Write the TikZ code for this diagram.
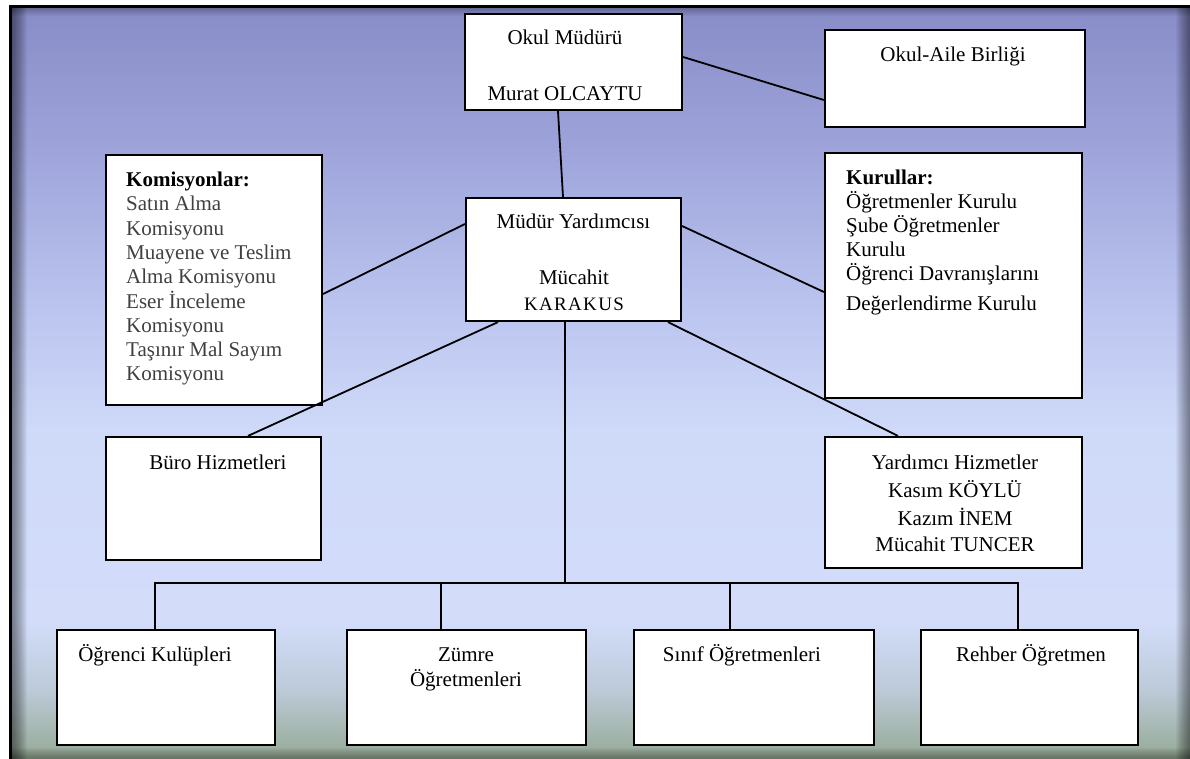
\documentclass[tikz,border=0pt]{standalone}
\usepackage{fontspec}
\setmainfont{Liberation Serif}
\usetikzlibrary{calc}
\definecolor{bgA}{HTML}{878BC6}
\definecolor{bgB}{HTML}{9EA4DA}
\definecolor{bgC}{HTML}{BAC3EE}
\definecolor{bgD}{HTML}{CFDAF9}
\definecolor{bgE}{HTML}{D3DDFA}
\definecolor{bgF}{HTML}{BCCAD8}
\definecolor{bgG}{HTML}{93A892}
\definecolor{komgray}{HTML}{404040}
\begin{document}
\begin{tikzpicture}[x=1pt,y=-1pt,
  box/.style={draw=black, fill=white, line width=2.2pt, inner sep=0},
  conn/.style={line width=1.8pt, draw=black},
  txt/.style={inner sep=0, font=\fontsize{21}{24.2}\selectfont}]
\useasboundingbox (0,0) rectangle (1190,758);
% background gradient
\shade[top color=bgA, bottom color=bgB] (10,0) rectangle (1192,150.5);
\shade[top color=bgB, bottom color=bgC] (10,150) rectangle (1192,300.5);
\shade[top color=bgC, bottom color=bgD] (10,300) rectangle (1192,430.5);
\shade[top color=bgD, bottom color=bgE] (10,430) rectangle (1192,620.5);
\shade[top color=bgE, bottom color=bgF] (10,620) rectangle (1192,690.5);
\shade[top color=bgF, bottom color=bgG] (10,690) rectangle (1192,761);
% inner shadows
\foreach \i in {1,...,16} {\fill[black,opacity=0.035] (11,8) rectangle ({11+\i},761);}
\foreach \i in {1,...,14} {\fill[black,opacity=0.035] ({1190-\i},8) rectangle (1192,761);}
\foreach \i in {1,...,10} {\fill[black,opacity=0.03] (11,{758-\i}) rectangle (1192,761);}
\foreach \i in {1,...,8} {\fill[black,opacity=0.03] (11,8) rectangle (1192,{8+\i});}
% frame
\fill[white] (-2,-2) rectangle (9,761);
\fill[white] (-2,-2) rectangle (1192,5.3);
\draw[black, line width=3pt] (10.5,761) -- (10.5,6.8) -- (1192,6.8);

% boxes
\node[box, minimum width=217, minimum height=96] (om) at (573.5,62) {};
\node[box, minimum width=260, minimum height=97] (oab) at (955,78.5) {};
\node[box, minimum width=216, minimum height=250] (kom) at (214,280) {};
\node[box, minimum width=257, minimum height=245] (kur) at (953.5,275.5) {};
\node[box, minimum width=215, minimum height=123] (my) at (573.5,259.5) {};
\node[box, minimum width=215, minimum height=123] (buro) at (213.5,498.5) {};
\node[box, minimum width=257, minimum height=131] (yh) at (953.5,502.5) {};
\node[box, minimum width=218, minimum height=115] (ok) at (166,687.5) {};
\node[box, minimum width=239, minimum height=115] (zo) at (466.5,687.5) {};
\node[box, minimum width=240, minimum height=115] (si) at (754,687.5) {};
\node[box, minimum width=217, minimum height=115] (re) at (1029.5,687.5) {};

% connectors
\draw[conn] ($(om.south)+(-15.5,0)$) -- ($(my.north)+(-10.5,0)$);
\draw[conn] ($(om.east)+(0,-5)$) -- ($(oab.west)+(0,21.5)$);
\draw[conn] ($(my.west)+(0,-35.5)$) -- ($(kom.east)+(0,14)$);
\draw[conn] ($(my.east)+(0,-33.5)$) -- ($(kur.west)+(0,16.5)$);
\draw[conn] ($(my.south)+(-75.5,0)$) -- ($(buro.north)+(34.5,0)$);
\draw[conn] ($(my.south)+(94.5,0)$) -- ($(yh.north)+(-55.5,0)$);
\coordinate (bus) at (565,583);
\draw[conn] ($(my.south)+(-8.5,0)$) -- (bus);
\draw[conn] ($(ok.north)+(-11,0)$) |- (bus) -| ($(re.north)+(-11.5,0)$);
\draw[conn] ($(zo.north)+(-25.5,0)$) -- ++(0,-47);
\draw[conn] ($(si.north)+(-24,0)$) -- ++(0,-47);

% texts
\node[txt, anchor=base] (t1) at (565,44.3) {Okul Müdürü};
\node[txt, anchor=base] (t2) at (565,100) {Murat OLCAYTU};
\node[txt, anchor=base] (t3) at (953,61) {Okul-Aile Birliği};
\node[txt, anchor=base] (t4) at (573.5,228) {Müdür Yardımcısı};
\node[txt, anchor=base] (t5) at (574,284) {Mücahit};
\node[txt, anchor=base, font=\fontsize{19}{22}\selectfont\addfontfeature{LetterSpace=7}] (t6) at (574,310) {KARAKUS};
\node[txt, anchor=base west] (t7) at (126,186.7) {\begin{tabular}[t]{@{}l@{}}
\textbf{Komisyonlar:}\\
\color{komgray}Satın Alma\\
\color{komgray}Komisyonu\\
\color{komgray}Muayene ve Teslim\\
\color{komgray}Alma Komisyonu\\
\color{komgray}Eser İnceleme\\
\color{komgray}Komisyonu\\
\color{komgray}Taşınır Mal Sayım\\
\color{komgray}Komisyonu
\end{tabular}};
\node[txt, anchor=base west, font=\fontsize{21}{23.8}\selectfont] (t8) at (846,184.3) {\begin{tabular}[t]{@{}l@{}}
\textbf{Kurullar:}\\
Öğretmenler Kurulu\\
Şube Öğretmenler\\
Kurulu\\
Öğrenci Davranışlarını\\[6pt]
Değerlendirme Kurulu
\end{tabular}};
\node[txt, anchor=base] (t9) at (218,469) {Büro Hizmetleri};
\node[txt, anchor=base] (t10) at (955,469.3) {Yardımcı Hizmetler};
\node[txt, anchor=base] (t11) at (955,497.3) {Kasım KÖYLÜ};
\node[txt, anchor=base] (t12) at (955,525) {Kazım İNEM};
\node[txt, anchor=base] (t13) at (955,551.7) {Mücahit TUNCER};
\node[txt, anchor=base] (t14) at (155,661.7) {Öğrenci Kulüpleri};
\node[txt, anchor=base] (t15) at (466,661.7) {Zümre};
\node[txt, anchor=base] (t16) at (466,686.5) {Öğretmenleri};
\node[txt, anchor=base] (t17) at (742,661.7) {Sınıf Öğretmenleri};
\node[txt, anchor=base] (t18) at (1031,661.7) {Rehber Öğretmen};
\end{tikzpicture}
\end{document}
